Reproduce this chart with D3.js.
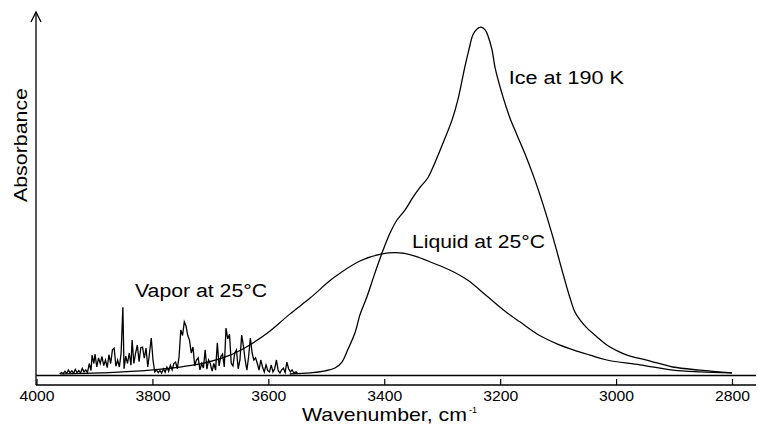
<!DOCTYPE html>
<html>
<head>
<meta charset="utf-8">
<script src="https://cdn.jsdelivr.net/npm/d3@7"></script>
<style>
  html, body { margin: 0; padding: 0; background: #fff; }
  svg { display: block; }
  text { font-family: "Liberation Sans", Arial, sans-serif; fill: #000; }
</style>
</head>
<body>
<div id="chart"></div>
<script>
// ---- data (wavenumber in cm^-1, absorbance in arbitrary units) ----
const xTickValues = [4000, 3800, 3600, 3400, 3200, 3000, 2800];

const iceWn = [3563, 3528, 3502, 3485, 3473, 3463, 3450, 3442, 3430, 3416, 3402, 3390, 3378, 3364, 3350, 3338, 3325, 3312, 3300, 3283, 3273, 3261, 3254, 3247, 3240, 3233, 3226, 3221, 3214, 3209, 3195, 3183, 3171, 3155, 3140, 3124, 3109, 3092, 3080, 3071, 3062, 3050, 3033, 3016, 2998, 2981, 2941, 2902, 2855, 2800];
const iceAbs = [0, 0.003, 0.009, 0.017, 0.034, 0.069, 0.12, 0.169, 0.22, 0.289, 0.354, 0.403, 0.44, 0.469, 0.506, 0.534, 0.56, 0.606, 0.654, 0.726, 0.783, 0.877, 0.926, 0.969, 0.986, 0.991, 0.983, 0.966, 0.926, 0.877, 0.791, 0.731, 0.683, 0.62, 0.554, 0.474, 0.391, 0.289, 0.22, 0.177, 0.154, 0.131, 0.106, 0.083, 0.066, 0.054, 0.037, 0.02, 0.011, 0.003];

const liquidWn = [3959, 3890, 3804, 3718, 3666, 3632, 3597, 3563, 3528, 3488, 3442, 3404, 3373, 3347, 3316, 3287, 3257, 3223, 3192, 3166, 3131, 3102, 3074, 3045, 3016, 2959, 2902, 2855, 2800];
const liquidAbs = [0, 0.003, 0.011, 0.029, 0.054, 0.083, 0.123, 0.171, 0.217, 0.274, 0.323, 0.343, 0.346, 0.337, 0.317, 0.297, 0.269, 0.223, 0.18, 0.149, 0.109, 0.086, 0.069, 0.054, 0.04, 0.026, 0.011, 0.006, 0.003];

const vaporWn = [3960, 3957, 3954, 3951, 3948, 3945, 3942, 3939, 3936, 3933, 3930, 3927, 3924, 3921, 3918, 3915, 3912, 3909, 3906, 3904, 3901, 3899, 3896, 3893, 3890, 3887, 3884, 3881, 3878, 3875, 3872, 3869, 3866, 3863, 3860, 3857, 3854, 3851, 3849, 3846, 3843, 3840, 3837, 3835, 3832, 3829, 3826, 3823, 3820, 3817, 3814, 3811, 3808, 3805, 3802, 3799, 3796, 3793, 3790, 3787, 3784, 3781, 3778, 3775, 3772, 3769, 3766, 3763, 3760, 3757, 3754, 3751, 3748, 3745, 3742, 3739, 3736, 3733, 3730, 3727, 3724, 3721, 3718, 3715, 3712, 3709, 3706, 3703, 3700, 3697, 3694, 3691, 3688, 3685, 3682, 3679, 3676, 3673, 3670, 3667, 3664, 3661, 3658, 3655, 3652, 3649, 3646, 3643, 3640, 3637, 3634, 3631, 3628, 3625, 3622, 3619, 3616, 3613, 3610, 3607, 3604, 3601, 3598, 3595, 3592, 3589, 3586, 3583, 3580, 3577, 3574, 3571, 3568, 3565, 3562, 3559, 3556, 3552, 3549];
const vaporAbs = [0, 0.004, 0.001, 0.008, 0.002, 0.011, 0.003, 0.009, 0.002, 0.013, 0.004, 0.010, 0.003, 0.016, 0.006, 0.012, 0.004, 0.030, 0.010, 0.054, 0.030, 0.057, 0.020, 0.046, 0.030, 0.050, 0.024, 0.040, 0.018, 0.055, 0.030, 0.069, 0.074, 0.022, 0.040, 0.020, 0.060, 0.191, 0.015, 0.051, 0.030, 0.060, 0.025, 0.097, 0.030, 0.060, 0.083, 0.035, 0.075, 0.077, 0.045, 0.074, 0.020, 0.060, 0.103, 0.040, 0.006, 0.012, 0.004, 0.010, 0.003, 0.015, 0.005, 0.020, 0.008, 0.025, 0.012, 0.030, 0.034, 0.015, 0.050, 0.126, 0.110, 0.149, 0.137, 0.110, 0.097, 0.060, 0.077, 0.023, 0.040, 0.046, 0.012, 0.030, 0.017, 0.069, 0.014, 0.040, 0.029, 0.008, 0.030, 0.011, 0.089, 0.023, 0.050, 0.057, 0.020, 0.131, 0.100, 0.114, 0.030, 0.023, 0.060, 0.069, 0.015, 0.040, 0.111, 0.080, 0.040, 0.011, 0.050, 0.103, 0.060, 0.040, 0.046, 0.030, 0.011, 0.040, 0.020, 0.006, 0.026, 0.010, 0.006, 0.026, 0.006, 0.015, 0.040, 0.010, 0.003, 0.012, 0.017, 0.004, 0.034, 0.015, 0.006, 0.012, 0.003, 0.006, 0];

const labels = [
  { text: "Ice at 190 K", wn: 3185, abs: 0.829, len: 115 },
  { text: "Liquid at 25°C", wn: 3352, abs: 0.36, len: 133 },
  { text: "Vapor at 25°C", wn: 3830, abs: 0.22, len: 132 }
];

// ---- drawing ----
const W = 758, H = 426;
const svg = d3.select("#chart").append("svg").attr("width", W).attr("height", H);

const x = d3.scaleLinear().domain([4000, 2800]).range([36.5, 732]);
const y = d3.scaleLinear().domain([0, 1]).range([374, 24]);

const axisY = 385;
const axisLeft = 36, axisRight = 756;

// baseline of the spectra
svg.append("line")
  .attr("x1", axisLeft).attr("x2", axisRight)
  .attr("y1", y(0) + 1.5).attr("y2", y(0) + 1.5)
  .attr("stroke", "#000").attr("stroke-width", 1.3);

// x axis
const xAxis = d3.axisBottom(x).tickValues(xTickValues).tickSize(-6).tickPadding(5).tickFormat(d3.format("d"));
const gx = svg.append("g").attr("transform", `translate(0,${axisY})`).call(xAxis);
gx.select(".domain").remove();
gx.selectAll(".tick line").attr("stroke", "#000").attr("stroke-width", 1.2);
gx.selectAll(".tick text")
  .attr("font-family", "Liberation Sans, Arial, sans-serif")
  .attr("font-size", 15).attr("fill", "#000")
  .attr("textLength", 35).attr("lengthAdjust", "spacingAndGlyphs");
svg.append("line")
  .attr("x1", axisLeft).attr("x2", axisRight)
  .attr("y1", axisY).attr("y2", axisY)
  .attr("stroke", "#000").attr("stroke-width", 1.3);

// y axis with arrow
svg.append("line")
  .attr("x1", axisLeft).attr("x2", axisLeft)
  .attr("y1", 12).attr("y2", axisY)
  .attr("stroke", "#000").attr("stroke-width", 1.3);
svg.append("path")
  .attr("d", `M${axisLeft - 5},22 L${axisLeft},12 L${axisLeft + 5},22`)
  .attr("fill", "none").attr("stroke", "#000").attr("stroke-width", 1.3);

// axis titles
svg.append("text")
  .attr("transform", `translate(27,${145}) rotate(-90)`)
  .attr("text-anchor", "middle")
  .attr("font-size", 18)
  .attr("textLength", 114).attr("lengthAdjust", "spacingAndGlyphs")
  .text("Absorbance");
svg.append("text")
  .attr("x", 302).attr("y", 421)
  .attr("font-size", 19)
  .attr("textLength", 165).attr("lengthAdjust", "spacingAndGlyphs")
  .text("Wavenumber, cm");
svg.append("text")
  .attr("x", 469).attr("y", 413)
  .attr("font-size", 9)
  .text("-1");

// curves
const lineSmooth = d3.line().x(d => x(d[0])).y(d => y(d[1])).curve(d3.curveCatmullRom.alpha(0.5));
const lineRaw = d3.line().x(d => x(d[0])).y(d => y(d[1]));

svg.append("path").datum(d3.zip(liquidWn, liquidAbs))
  .attr("d", lineSmooth).attr("fill", "none").attr("stroke", "#000").attr("stroke-width", 1.2);
svg.append("path").datum(d3.zip(iceWn, iceAbs))
  .attr("d", lineSmooth).attr("fill", "none").attr("stroke", "#000").attr("stroke-width", 1.3);
svg.append("path").datum(d3.zip(vaporWn, vaporAbs))
  .attr("d", lineRaw).attr("fill", "none").attr("stroke", "#000").attr("stroke-width", 1.3);

// labels
labels.forEach(l => {
  svg.append("text")
    .attr("x", x(l.wn)).attr("y", y(l.abs))
    .attr("font-size", 18)
    .attr("textLength", l.len).attr("lengthAdjust", "spacingAndGlyphs")
    .text(l.text);
});
</script>
</body>
</html>
